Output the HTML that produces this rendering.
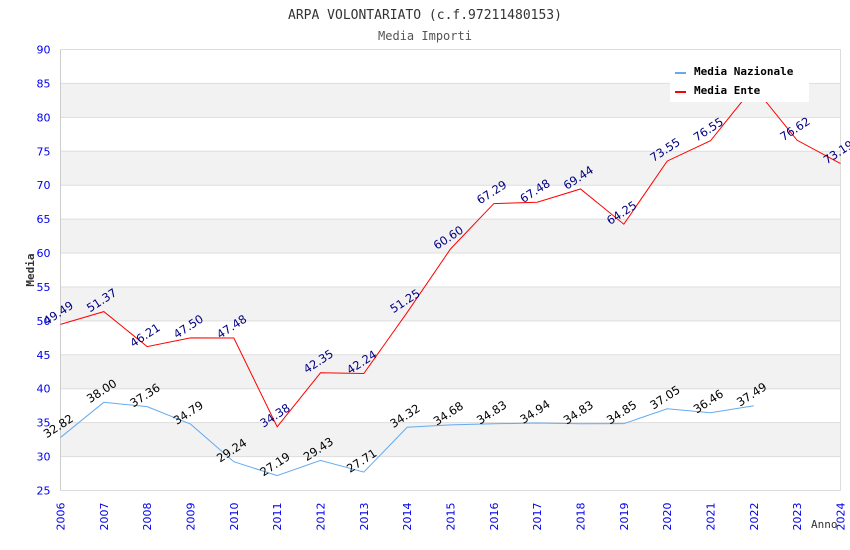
<!DOCTYPE html>
<html><head><meta charset="utf-8"><style>
body{margin:0;background:#fff;}
svg{display:block;font-family:"DejaVu Sans","Liberation Sans",sans-serif;}
</style></head><body>
<svg id="chart" width="850" height="550" xmlns="http://www.w3.org/2000/svg">
<text x="425" y="19" text-anchor="middle" font-family="DejaVu Sans Mono, Liberation Mono, monospace" font-size="13" fill="#333">ARPA VOLONTARIATO (c.f.97211480153)</text>
<text x="425" y="40" text-anchor="middle" font-family="DejaVu Sans Mono, Liberation Mono, monospace" font-size="12" fill="#555">Media Importi</text>
<g id="bands"></g><g id="grid"></g><g id="axes"></g><g id="series"></g><g id="labels"></g>
<text transform="translate(34,270) rotate(-90)" text-anchor="middle" font-family="DejaVu Sans Mono, Liberation Mono, monospace" font-weight="bold" font-size="11" fill="#333">Media</text>
<text x="811" y="528" font-family="DejaVu Sans Mono, Liberation Mono, monospace" font-size="11" fill="#333">Anno</text>
<g>
<rect x="670" y="60" width="139" height="42" fill="#fff"/>
<g><rect x="675" y="72" width="11" height="2" fill="#66aaee"/><text x="694" y="75" font-family="DejaVu Sans Mono, Liberation Mono, monospace" font-weight="bold" font-size="11" fill="#000">Media Nazionale</text></g>
<g><rect x="675" y="91" width="11" height="2" fill="#ff0000"/><text x="694" y="94" font-family="DejaVu Sans Mono, Liberation Mono, monospace" font-weight="bold" font-size="11" fill="#000">Media Ente</text></g>
</g>
</svg>
<script>
const years=[2006,2007,2008,2009,2010,2011,2012,2013,2014,2015,2016,2017,2018,2019,2020,2021,2022,2023,2024];
const ente=[49.49,51.37,46.21,47.50,47.48,34.38,42.35,42.24,51.25,60.60,67.29,67.48,69.44,64.25,73.55,76.55,84.50,76.62,73.19];
const nazionale=[32.82,38.00,37.36,34.79,29.24,27.19,29.43,27.71,34.32,34.68,34.83,34.94,34.83,34.85,37.05,36.46,37.49];
const yTicks=[25,30,35,40,45,50,55,60,65,70,75,80,85,90];
const NS="http://www.w3.org/2000/svg";
const L=60.5,R=840.5,T=49.5,B=490.5,yMin=25,yMax=90;
const xs=i=>L+(R-L)*i/(years.length-1);
const ys=v=>B-(B-T)*(v-yMin)/(yMax-yMin);
function mk(tag,attrs,parent){const e=document.createElementNS(NS,tag);for(const k in attrs)e.setAttribute(k,attrs[k]);document.getElementById(parent).appendChild(e);return e;}
for(let i=0;i<yTicks.length-1;i++){
 if(i%2===1){const r=mk('rect',{x:L,y:ys(yTicks[i+1]),width:R-L,height:ys(yTicks[i])-ys(yTicks[i+1]),fill:'#f2f2f2'},'bands');
 
 }
}
yTicks.forEach(v=>{
 const l=mk('line',{x1:L,x2:R,y1:ys(v),y2:ys(v),stroke:'#dddddd'},'grid');
 
 
 const t=mk('text',{x:L-10,y:ys(v)+4,'text-anchor':'end','font-size':11,fill:'#0000ee'},'axes');
 t.textContent=v;
 
 
});
mk('line',{x1:L,x2:L,y1:T,y2:B,stroke:'#ccc'},'axes');
mk('line',{x1:R,x2:R,y1:T,y2:B,stroke:'#ddd'},'axes');
years.forEach((y,i)=>{
 const t=mk('text',{transform:`translate(${xs(i)+4},${B+40}) rotate(-90)`,'font-size':11,fill:'#0000ee'},'axes');
 t.textContent=y;
 
 
});
function series(vals,color,lblColor,name){
 const p=mk('polyline',{points:vals.map((v,i)=>xs(i)+','+ys(v)).join(' '),fill:'none',stroke:color,'stroke-width':1},'series');
 
 
 vals.forEach((v,i)=>{
  const t=mk('text',{transform:`translate(${xs(i)},${ys(v)-8}) rotate(-33)`,'text-anchor':'middle','font-size':11.5,fill:lblColor},'labels');
  t.textContent=v.toFixed(2);
  
  
 });
}
series(nazionale,'#66aaee','#000','nazionale');
series(ente,'#ff0000','#000080','ente');
</script>
</body></html>
